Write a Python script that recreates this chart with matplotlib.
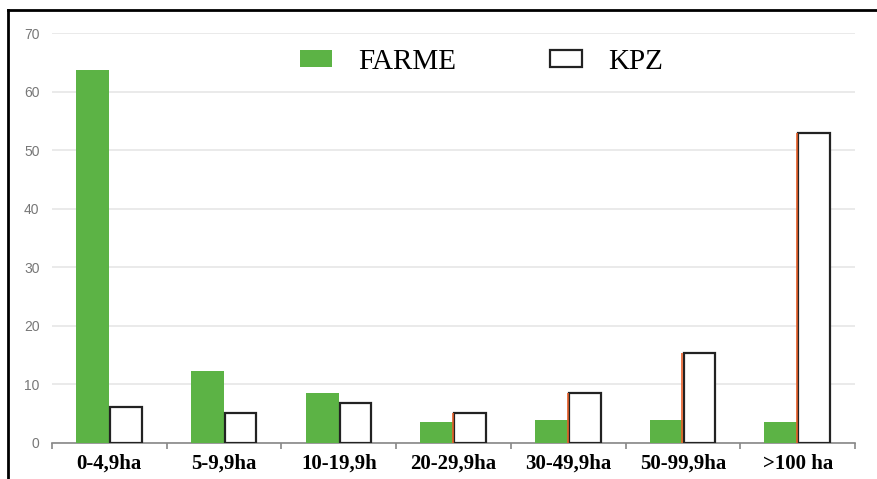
import matplotlib
matplotlib.use("Agg")
import matplotlib.pyplot as plt
import numpy as np
from matplotlib.lines import Line2D
from matplotlib.patches import Patch

categories = ["0-4,9ha", "5-9,9ha", "10-19,9h", "20-29,9ha", "30-49,9ha", "50-99,9ha", ">100 ha"]
farme = [63.6, 12.3, 8.6, 3.6, 3.9, 3.9, 3.5]
kpz = [6.1, 5.2, 6.9, 5.2, 8.6, 15.4, 52.9]
orange_edge = [False, False, False, True, True, True, True]  # stray orange line left of KPZ bar

GREEN = "#5cb345"

fig = plt.figure(figsize=(8.78, 4.79), dpi=100)
ax = fig.add_axes([0.0592, 0.0752, 0.9146, 0.8559])

x = np.arange(len(categories))
w = 0.29
ax.bar(x - w / 2, farme, width=w, color=GREEN, edgecolor="none", zorder=3)
ax.bar(x + w / 2, kpz, width=w * 0.95, color="white", edgecolor="#222222", linewidth=1.6, zorder=3)
for xi, k, o in zip(x, kpz, orange_edge):
    if o:
        ax.vlines(xi - w * 0.02, 0, k, color="#e8602a", linewidth=1.2, zorder=4)

ax.set_xlim(-0.5, len(categories) - 0.5)
ax.set_ylim(0, 70)
ax.set_yticks(range(0, 71, 10))
ax.grid(axis="y", color="#e6e6e6", linewidth=1.2, zorder=0)
ax.set_axisbelow(True)

for s in ["top", "right", "left"]:
    ax.spines[s].set_visible(False)
ax.spines["bottom"].set_color("#888888")
ax.spines["bottom"].set_linewidth(1.2)

ax.set_xticks(x)
ax.set_xticklabels(categories, fontfamily="Liberation Serif", fontweight="bold", fontsize=15)
ax.tick_params(axis="x", length=0, pad=8)
ax.set_xticks(np.arange(len(categories) + 1) - 0.5, minor=True)
ax.tick_params(axis="x", which="minor", length=4, color="#888888", width=1.2)
ax.tick_params(axis="y", length=0, pad=9, labelsize=10, labelcolor="#777777")
for t in ax.get_yticklabels():
    t.set_fontfamily("Liberation Sans")

handles = [Patch(facecolor=GREEN, edgecolor="none"),
           Patch(facecolor="white", edgecolor="#222222", linewidth=1.6)]
ax.legend(handles, ["FARME", "KPZ"], ncol=2, frameon=False, loc="center",
          bbox_to_anchor=(0.535, 0.929), prop={"family": "Liberation Serif", "size": 21},
          handlelength=1.1, handleheight=0.5, handletextpad=0.9, columnspacing=3.2)

# outer frame (top and left only)
fig.add_artist(Line2D([8 / 878, 1], [1 - 10 / 479] * 2, color="black", linewidth=2))
fig.add_artist(Line2D([8 / 878] * 2, [0, 1 - 10 / 479], color="black", linewidth=2))

fig.savefig("out.png", dpi=100)
